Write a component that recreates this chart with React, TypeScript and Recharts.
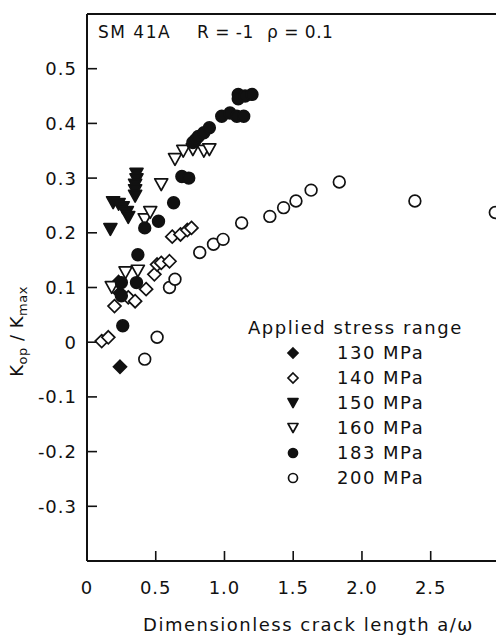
import React from 'react';
import {
  ScatterChart,
  Scatter,
  XAxis,
  YAxis,
  ReferenceLine,
  Legend,
  Customized
} from 'recharts';

// crack length a/w, Kop/Kmax pairs per stress range
const s130: [number, number][] = [[0.24, -0.045], [0.23, 0.11], [0.24, 0.09]];
const s140: [number, number][] = [
  [0.107, 0.002], [0.155, 0.009], [0.2, 0.066], [0.3, 0.082], [0.35, 0.075],
  [0.43, 0.097], [0.49, 0.124], [0.51, 0.142], [0.54, 0.145], [0.6, 0.148],
  [0.62, 0.193], [0.68, 0.197], [0.73, 0.205], [0.76, 0.209]
];
const s150: [number, number][] = [
  [0.36, 0.307], [0.36, 0.297], [0.35, 0.287], [0.35, 0.277], [0.35, 0.267],
  [0.19, 0.255], [0.23, 0.252], [0.26, 0.246], [0.29, 0.237], [0.3, 0.228], [0.17, 0.206]
];
const s160: [number, number][] = [
  [0.18, 0.1], [0.28, 0.127], [0.37, 0.13], [0.42, 0.224], [0.46, 0.237],
  [0.54, 0.288], [0.64, 0.334], [0.7, 0.349], [0.77, 0.352], [0.85, 0.349], [0.89, 0.352]
];
const s183: [number, number][] = [
  [0.26, 0.03], [0.25, 0.085], [0.25, 0.109], [0.36, 0.109], [0.37, 0.16],
  [0.42, 0.209], [0.52, 0.221], [0.63, 0.255], [0.69, 0.303], [0.74, 0.3],
  [0.77, 0.365], [0.79, 0.37], [0.81, 0.376], [0.85, 0.383], [0.89, 0.392],
  [0.98, 0.413], [1.04, 0.419], [1.09, 0.413], [1.14, 0.413],
  [1.1, 0.453], [1.1, 0.445], [1.15, 0.45], [1.2, 0.453]
];
const s200: [number, number][] = [
  [0.42, -0.031], [0.51, 0.009], [0.6, 0.1], [0.64, 0.115], [0.82, 0.164],
  [0.92, 0.179], [0.99, 0.188], [1.125, 0.218], [1.33, 0.23], [1.43, 0.246],
  [1.52, 0.258], [1.63, 0.278], [1.835, 0.293], [2.385, 0.258], [2.97, 0.237]
];

const xTicks = [0, 0.5, 1, 1.5, 2, 2.5];
const yTicks = [-0.3, -0.2, -0.1, 0, 0.1, 0.2, 0.3, 0.4, 0.5];

type Kind = 'diamondFilled' | 'diamond' | 'triFilled' | 'tri' | 'dotFilled' | 'dot';

const seriesList: { name: string; kind: Kind; points: [number, number][] }[] = [
  { name: '130 MPa', kind: 'diamondFilled', points: s130 },
  { name: '140 MPa', kind: 'diamond', points: s140 },
  { name: '150 MPa', kind: 'triFilled', points: s150 },
  { name: '160 MPa', kind: 'tri', points: s160 },
  { name: '183 MPa', kind: 'dotFilled', points: s183 },
  { name: '200 MPa', kind: 'dot', points: s200 }
];

const FONT = '"DejaVu Sans", sans-serif';
const INK = '#111';

function Marker({ kind, cx, cy, r }: { kind: Kind; cx: number; cy: number; r: number }) {
  const filled = kind.endsWith('Filled');
  const fill = filled ? INK : '#fff';
  if (kind.startsWith('diamond')) {
    const d = `M${cx},${cy - r} L${cx + r},${cy} L${cx},${cy + r} L${cx - r},${cy} Z`;
    return <path d={d} fill={fill} stroke={INK} strokeWidth={1.7} />;
  }
  if (kind.startsWith('tri')) {
    const h = r * 0.9;
    const d = `M${cx - r},${cy - h} L${cx + r},${cy - h} L${cx},${cy + h} Z`;
    return <path d={d} fill={fill} stroke={INK} strokeWidth={1.7} strokeLinejoin="round" />;
  }
  return <circle cx={cx} cy={cy} r={r * 0.9} fill={fill} stroke={INK} strokeWidth={1.7} />;
}

const fmt = (v: number) => (v === 0 ? '0' : v.toFixed(1));

function XTick(props: any) {
  const { x, y, payload } = props;
  return (
    <g>
      <line x1={x} y1={y} x2={x} y2={y - 10} stroke={INK} strokeWidth={1.6} />
      <text x={x} y={y + 33} textAnchor="middle" fontSize={18} fontFamily={FONT} letterSpacing={1} fill={INK}>
        {fmt(payload.value)}
      </text>
    </g>
  );
}

function YTick(props: any) {
  const { x, y, payload } = props;
  return (
    <g>
      <line x1={x} y1={y} x2={x + 10} y2={y} stroke={INK} strokeWidth={1.6} />
      <text x={x - 10} y={y + 6.5} textAnchor="end" fontSize={18} fontFamily={FONT} letterSpacing={1} fill={INK}>
        {fmt(payload.value)}
      </text>
    </g>
  );
}

function YLabel(props: any) {
  const { viewBox } = props;
  const cx = viewBox.x + 23;
  const cy = viewBox.y + viewBox.height / 2 + 44;
  return (
    <text x={cx} y={cy} transform={`rotate(-90, ${cx}, ${cy})`} textAnchor="middle" fontSize={18} fontFamily={FONT} letterSpacing={0.5} fill={INK}>
      K<tspan dy={4} fontSize={13}>op</tspan>
      <tspan dy={-4}> / K</tspan>
      <tspan dy={4} fontSize={13}>max</tspan>
    </text>
  );
}

function XLabel(props: any) {
  const { viewBox } = props;
  return (
    <text
      x={viewBox.x + viewBox.width / 2 + 17}
      y={viewBox.y + 70}
      textAnchor="middle"
      fontSize={18}
      fontFamily={FONT}
      letterSpacing={1.5}
      fill={INK}
    >
      Dimensionless crack length a/ω
    </text>
  );
}

function Title() {
  const style = { fontSize: 17, fontFamily: FONT, fill: INK };
  return (
    <g>
      <text x={98} y={38} letterSpacing={1.5} {...style}>SM 41A</text>
      <text x={197} y={38} letterSpacing={0.5} {...style}>R = -1</text>
      <text x={267} y={38} letterSpacing={0.5} {...style}>ρ = 0.1</text>
    </g>
  );
}

function LegendBox() {
  return (
    <div style={{ fontFamily: FONT, fontSize: 18, letterSpacing: 1.5, color: INK, lineHeight: '25px' }}>
      <div>Applied stress range</div>
      {seriesList.map(s => (
        <div key={s.name} style={{ display: 'flex', alignItems: 'center', height: 25 }}>
          <svg width={18} height={18} style={{ marginLeft: 36, marginRight: 35 }}>
            <Marker kind={s.kind} cx={9} cy={9} r={5} />
          </svg>
          <span>{s.name}</span>
        </div>
      ))}
    </div>
  );
}

export default function App() {
  return (
    <div style={{ position: 'absolute', left: 0, top: 0, width: 496, height: 639, background: '#fff', overflow: 'hidden' }}>
      <ScatterChart width={496} height={639} margin={{ top: 14, right: 0, bottom: 0, left: 0 }}>
        <XAxis
          type="number"
          dataKey="x"
          domain={[0, 2.975]}
          ticks={xTicks}
          allowDataOverflow
          height={78}
          tickSize={0}
          tickMargin={0}
          tickLine={false}
          tick={<XTick />}
          axisLine={{ stroke: INK, strokeWidth: 2 }}
          label={{ content: <XLabel /> }}
        />
        <YAxis
          type="number"
          dataKey="y"
          domain={[-0.4, 0.6]}
          ticks={yTicks}
          allowDataOverflow
          width={87}
          tickSize={0}
          tickMargin={0}
          tickLine={false}
          tick={<YTick />}
          axisLine={{ stroke: INK, strokeWidth: 2 }}
          label={{ content: <YLabel /> }}
        />
        <ReferenceLine y={0.6} stroke={INK} strokeWidth={2} />
        <Legend
          layout="vertical"
          align="center"
          verticalAlign="middle"
          wrapperStyle={{ left: 248, top: 315, width: 240 }}
          content={() => <LegendBox />}
        />
        <Customized component={Title} />
        {seriesList.map(s => (
          <Scatter
            key={s.name}
            name={s.name}
            data={s.points.map(([x, y]) => ({ x, y }))}
            isAnimationActive={false}
            shape={(p: any) => <Marker kind={s.kind} cx={p.cx} cy={p.cy} r={6.5} />}
          />
        ))}
      </ScatterChart>
    </div>
  );
}
